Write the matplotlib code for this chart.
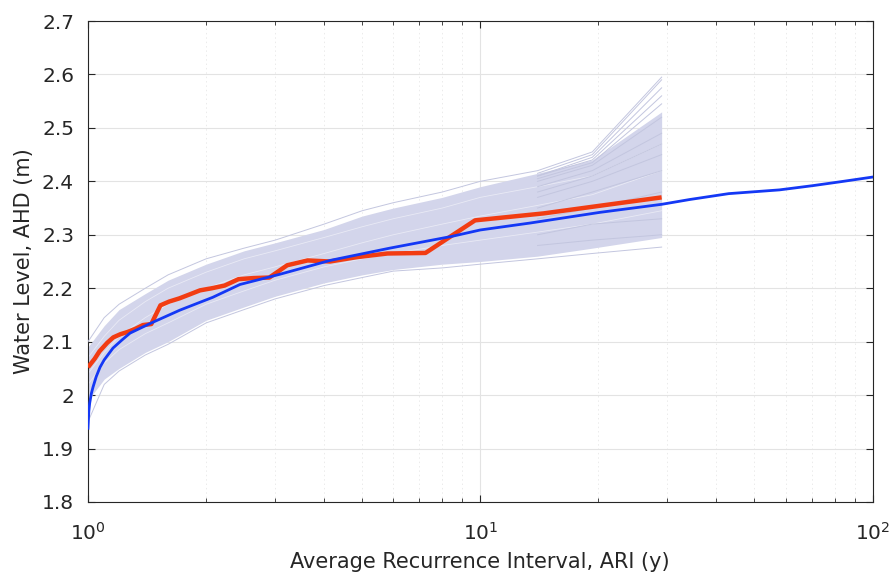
import matplotlib
matplotlib.use("Agg")
import matplotlib.pyplot as plt
import matplotlib.ticker as mticker
import numpy as np

# empirical annual maxima (plotting positions) - red
emp_ari = [1.0, 1.04, 1.07, 1.12, 1.16, 1.21, 1.26, 1.32, 1.38, 1.45, 1.53, 1.61,
           1.71, 1.81, 1.93, 2.07, 2.23, 2.42, 2.64, 2.9, 3.22, 3.63, 4.14, 4.83,
           5.8, 7.25, 9.7, 14.5, 29.0]
emp_wl = [2.052, 2.068, 2.082, 2.098, 2.108, 2.114, 2.118, 2.124, 2.131, 2.133, 2.168, 2.175,
          2.181, 2.188, 2.196, 2.200, 2.205, 2.217, 2.219, 2.220, 2.243, 2.252, 2.250, 2.258,
          2.265, 2.266, 2.327, 2.340, 2.370]

# fitted distribution - blue
fit_ari = [1.0, 1.005, 1.01, 1.02, 1.03, 1.05, 1.073, 1.10, 1.158, 1.22, 1.28, 1.44,
           1.715, 2.08, 2.44, 3.08, 4.14, 5.88, 8.46, 10.0, 13.4, 20.2, 29.0, 34.2,
           43.0, 57.9, 70.5, 82.4, 100.0]
fit_wl = [1.938, 1.970, 1.985, 2.003, 2.015, 2.035, 2.052, 2.066, 2.088, 2.103, 2.116, 2.134,
          2.159, 2.183, 2.207, 2.226, 2.252, 2.275, 2.297, 2.309, 2.322, 2.342, 2.357, 2.366,
          2.377, 2.384, 2.392, 2.399, 2.408]

# bootstrap ensemble
ens_ari = [1.0, 1.1, 1.2, 1.4, 1.6, 2.0, 2.5, 3.0, 4.0, 5.0, 6.0, 8.0, 10.0, 14.0, 19.3, 29.0]
band_top = [2.09, 2.13, 2.16, 2.19, 2.215, 2.245, 2.27, 2.285, 2.31, 2.335, 2.35, 2.37, 2.39, 2.415, 2.44, 2.53]
band_bot = [1.99, 2.03, 2.05, 2.08, 2.10, 2.14, 2.165, 2.185, 2.21, 2.225, 2.235, 2.245, 2.25, 2.26, 2.275, 2.295]
outer_top = [2.10, 2.145, 2.17, 2.20, 2.225, 2.255, 2.275, 2.29, 2.32, 2.345, 2.36, 2.38, 2.40, 2.42, 2.455, 2.595]
outer_bot = [1.95, 2.02, 2.045, 2.075, 2.095, 2.135, 2.16, 2.18, 2.205, 2.22, 2.232, 2.238, 2.245, 2.255, 2.265, 2.277]
streaks = [
    [2.07, 2.11, 2.14, 2.175, 2.20, 2.23, 2.255, 2.27, 2.295, 2.315, 2.33, 2.35, 2.37, 2.39, 2.41, 2.47],
    [2.04, 2.08, 2.11, 2.145, 2.17, 2.20, 2.225, 2.24, 2.265, 2.285, 2.30, 2.32, 2.335, 2.355, 2.375, 2.42],
    [2.02, 2.06, 2.085, 2.115, 2.135, 2.17, 2.195, 2.215, 2.24, 2.255, 2.265, 2.28, 2.29, 2.305, 2.32, 2.345],
]

fan_ari = [14.0, 19.3, 29.0]
fan_lines = [
    [2.415, 2.45, 2.59], [2.41, 2.445, 2.575], [2.41, 2.44, 2.56], [2.405, 2.435, 2.545],
    [2.40, 2.43, 2.52], [2.39, 2.42, 2.49], [2.38, 2.41, 2.47], [2.37, 2.40, 2.45],
    [2.35, 2.38, 2.42], [2.33, 2.35, 2.38], [2.30, 2.32, 2.33], [2.28, 2.29, 2.30],
]

yticks = [1.8, 1.9, 2.0, 2.1, 2.2, 2.3, 2.4, 2.5, 2.6, 2.7]
ylabels = ["1.8", "1.9", "2", "2.1", "2.2", "2.3", "2.4", "2.5", "2.6", "2.7"]

lav = "#d3d5eb"
lav_edge = "#c3c6df"
dark = "#262626"

fig = plt.figure(figsize=(8.96, 5.79), dpi=100)
ax = fig.add_axes([0.0982, 0.133, 0.8756, 0.8307])

ax.fill_between(ens_ari, band_bot, band_top, color=lav, lw=0, zorder=2)
for s in streaks:
    ax.plot(ens_ari, s, color="white", lw=0.6, alpha=0.5, zorder=2.5)
for f in fan_lines:
    ax.plot(fan_ari, f, color=lav_edge, lw=0.7, zorder=2.6)
ax.plot(ens_ari, outer_top, color=lav_edge, lw=0.7, zorder=2.6)
ax.plot(ens_ari, outer_bot, color=lav_edge, lw=0.7, zorder=2.6)

ax.plot(emp_ari, emp_wl, color="#f23c12", lw=3.2, zorder=4, solid_capstyle="butt")
ax.plot(fit_ari, fit_wl, color="#1438f5", lw=2.0, zorder=5)

ax.set_xscale("log")
ax.set_xlim(1, 100)
ax.set_ylim(1.8, 2.7)
ax.set_yticks(yticks)
ax.set_yticklabels(ylabels)
ax.xaxis.set_minor_locator(mticker.LogLocator(base=10, subs=np.arange(2, 10)))
ax.xaxis.set_minor_formatter(mticker.NullFormatter())

ax.grid(True, which="major", color="#e3e3e3", lw=0.8, zorder=0)
ax.grid(True, which="minor", axis="x", color="#ebebeb", lw=0.7, ls=(0, (1.5, 3)), zorder=0)
ax.set_axisbelow(True)

ax.tick_params(which="both", direction="in", top=True, right=True, colors=dark, labelsize=14.5)
ax.tick_params(which="major", length=5)
ax.tick_params(which="minor", length=3)
ax.tick_params(axis="x", which="major", pad=14)
ax.tick_params(axis="y", which="major", pad=10)
for sp in ax.spines.values():
    sp.set_color(dark)
    sp.set_linewidth(0.8)

ax.set_xlabel("Average Recurrence Interval, ARI (y)", fontsize=15, color=dark, labelpad=6)
ax.set_ylabel("Water Level, AHD (m)", fontsize=15, color=dark, labelpad=6)

fig.savefig("out.png", dpi=100)
